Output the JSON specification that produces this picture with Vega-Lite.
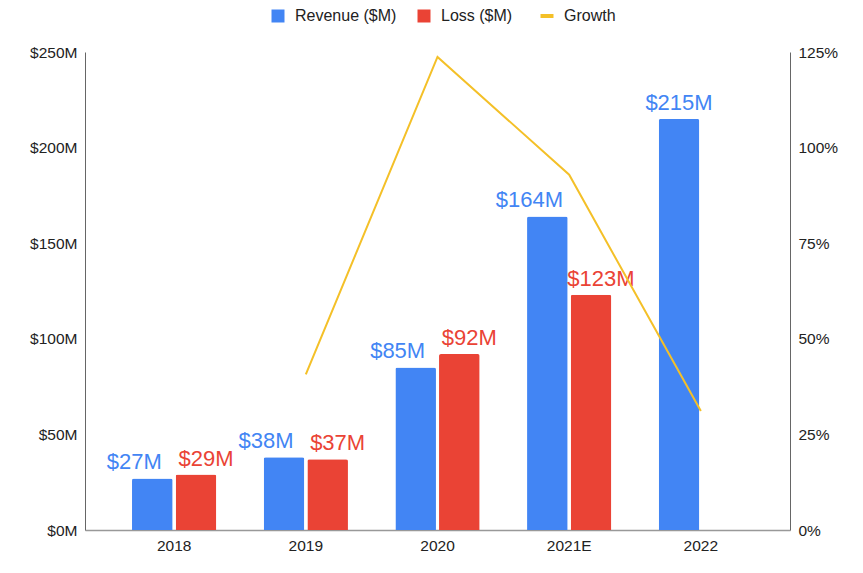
{
  "$schema": "https://vega.github.io/schema/vega-lite/v6.json",
  "width": 705,
  "height": 478,
  "autosize": {"type": "none"},
  "padding": {"left": 85, "top": 52, "right": 73, "bottom": 43},
  "background": "white",
  "config": {
    "view": {"stroke": null},
    "font": "Liberation Sans",
    "axis": {"labelFont": "Liberation Sans", "labelFontSize": 15.5, "labelColor": "#222", "grid": false, "ticks": false, "title": null}
  },
  "datasets": {
    "bars": [
      {"year": "2018", "series": "Revenue ($M)", "value": 27},
      {"year": "2018", "series": "Loss ($M)", "value": 29},
      {"year": "2019", "series": "Revenue ($M)", "value": 38},
      {"year": "2019", "series": "Loss ($M)", "value": 37},
      {"year": "2020", "series": "Revenue ($M)", "value": 85},
      {"year": "2020", "series": "Loss ($M)", "value": 92},
      {"year": "2021E", "series": "Revenue ($M)", "value": 164},
      {"year": "2021E", "series": "Loss ($M)", "value": 123},
      {"year": "2022", "series": "Revenue ($M)", "value": 215}
    ],
    "growth": [
      {"year": "2019", "growth": 0.407},
      {"year": "2020", "growth": 1.237},
      {"year": "2021E", "growth": 0.929},
      {"year": "2022", "growth": 0.311}
    ]
  },
  "layer": [
    {
      "data": {"name": "bars"},
      "encoding": {
        "x": {
          "field": "year", "type": "nominal", "sort": ["2018", "2019", "2020", "2021E", "2022"],
          "scale": {"paddingInner": 0.36, "paddingOuter": 0.357},
          "axis": {"labelAngle": 0, "domainColor": "#999", "domainWidth": 1.5, "labelPadding": 8}
        },
        "xOffset": {"field": "series", "type": "nominal", "scale": {"domain": ["Revenue ($M)", "Loss ($M)"], "paddingInner": 0.07, "paddingOuter": 0}},
        "y": {
          "field": "value", "type": "quantitative",
          "scale": {"domain": [0, 250], "nice": false},
          "axis": {"values": [0, 50, 100, 150, 200, 250], "labelExpr": "'$' + datum.value + 'M'", "domainColor": "#666", "labelPadding": 8}
        },
        "color": {
          "field": "series", "type": "nominal",
          "scale": {"domain": ["Revenue ($M)", "Loss ($M)", "Growth"], "range": ["#4285F4", "#EA4335", "#F4C028"]},
          "legend": {
            "orient": "none", "legendX": 185, "legendY": -44, "direction": "horizontal", "title": null,
            "symbolSize": 169, "labelFontSize": 16, "labelFont": "Liberation Sans", "labelColor": "#222",
            "columnPadding": 19, "labelOffset": 9,
            "encode": {
              "symbols": {
                "update": {
                  "shape": {"signal": "datum.label === 'Growth' ? 'stroke' : 'square'"},
                  "stroke": {"scale": "color", "field": "value"},
                  "strokeWidth": {"signal": "datum.label === 'Growth' ? 4 : 0"}
                }
              }
            }
          }
        }
      },
      "layer": [
        {"mark": {"type": "bar", "cornerRadiusTopLeft": 2, "cornerRadiusTopRight": 2}},
        {
          "transform": [{"filter": "datum.series === 'Revenue ($M)' && datum.year !== '2022'"}],
          "mark": {"type": "text", "fontSize": 22, "baseline": "alphabetic", "dy": -9, "dx": -18, "text": {"expr": "'$' + datum.value + 'M'"}}
        },
        {
          "transform": [{"filter": "datum.series === 'Revenue ($M)' && datum.year === '2022'"}],
          "mark": {"type": "text", "fontSize": 22, "baseline": "alphabetic", "dy": -9, "text": {"expr": "'$' + datum.value + 'M'"}}
        },
        {
          "transform": [{"filter": "datum.series === 'Loss ($M)'"}],
          "mark": {"type": "text", "fontSize": 22, "baseline": "alphabetic", "dy": -9, "dx": 10, "text": {"expr": "'$' + datum.value + 'M'"}}
        }
      ]
    },
    {
      "data": {"name": "growth"},
      "mark": {"type": "line", "color": "#F4C028", "strokeWidth": 2},
      "encoding": {
        "x": {"field": "year", "type": "nominal", "sort": ["2018", "2019", "2020", "2021E", "2022"]},
        "y": {
          "field": "growth", "type": "quantitative",
          "scale": {"domain": [0, 1.25], "nice": false},
          "axis": {"orient": "right", "values": [0, 0.25, 0.5, 0.75, 1, 1.25], "format": ".0%", "domainColor": "#666", "labelPadding": 8}
        }
      }
    }
  ],
  "resolve": {"scale": {"y": "independent"}}
}
